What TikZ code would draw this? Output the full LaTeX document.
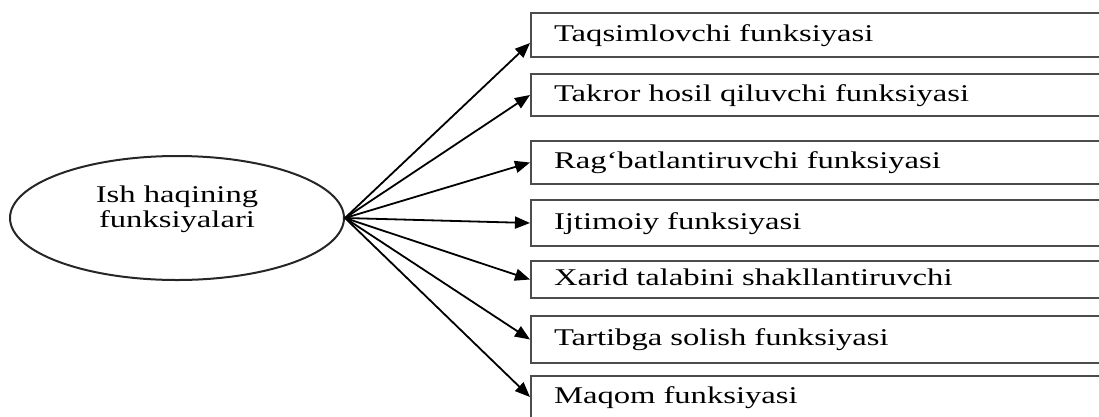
\documentclass[tikz,border=0pt]{standalone}
\usepackage{fontspec}
\setmainfont[FakeStretch=1.36]{Liberation Serif}
\usetikzlibrary{shapes,arrows.meta,positioning}

\begin{document}
\begin{tikzpicture}[
        x=1pt, y=-1pt,
        box/.style={rectangle, draw=black!70, line width=2pt, anchor=west, text width=530pt, align=left, inner xsep=23pt, inner ysep=0pt, text height=17pt, text depth=5pt, font=\fontsize{24}{25}\selectfont},
        oval/.style={ellipse, draw=black!85, line width=2pt, minimum width=334pt, minimum height=124pt, inner sep=0pt},
        arrow/.style={-{Triangle[length=15pt,width=12pt]}, line width=1.8pt}
    ]
        \useasboundingbox (0,0) rectangle (1099,416);
        \clip (0,0) rectangle (1099,416);
        \node[oval] (ish) at (177,218) {};
        \node[align=center, font=\fontsize{24}{25}\selectfont] (ishtxt) at (177,209) {Ish haqining\\funksiyalari};
        \node[box, minimum height=44pt] (b1) at (530,35) {Taqsimlovchi funksiyasi};
        \node[box, minimum height=42pt] (b2) at (530,95) {Takror hosil qiluvchi funksiyasi};
        \node[box, minimum height=43pt] (b3) at (530,162.5) {Rag‘batlantiruvchi funksiyasi};
        \node[box, minimum height=46pt] (b4) at (530,223) {Ijtimoiy funksiyasi};
        \node[box, minimum height=37pt] (b5) at (530,279.5) {Xarid talabini shakllantiruvchi};
        \node[box, minimum height=47pt] (b6) at (530,339.5) {Tartibga solish funksiyasi};
        \node[box, minimum height=42pt] (b7) at (530,397) {Maqom funksiyasi};
        \draw[arrow] (ish.east) -- ([yshift=-8pt]b1.west);
        \draw[arrow] (ish.east) -- (b2.west);
        \draw[arrow] (ish.east) -- (b3.west);
        \draw[arrow] (ish.east) -- (b4.west);
        \draw[arrow] (ish.east) -- (b5.west);
        \draw[arrow] (ish.east) -- (b6.west);
        \draw[arrow] (ish.east) -- (b7.west);
    \end{tikzpicture}
\end{document}
